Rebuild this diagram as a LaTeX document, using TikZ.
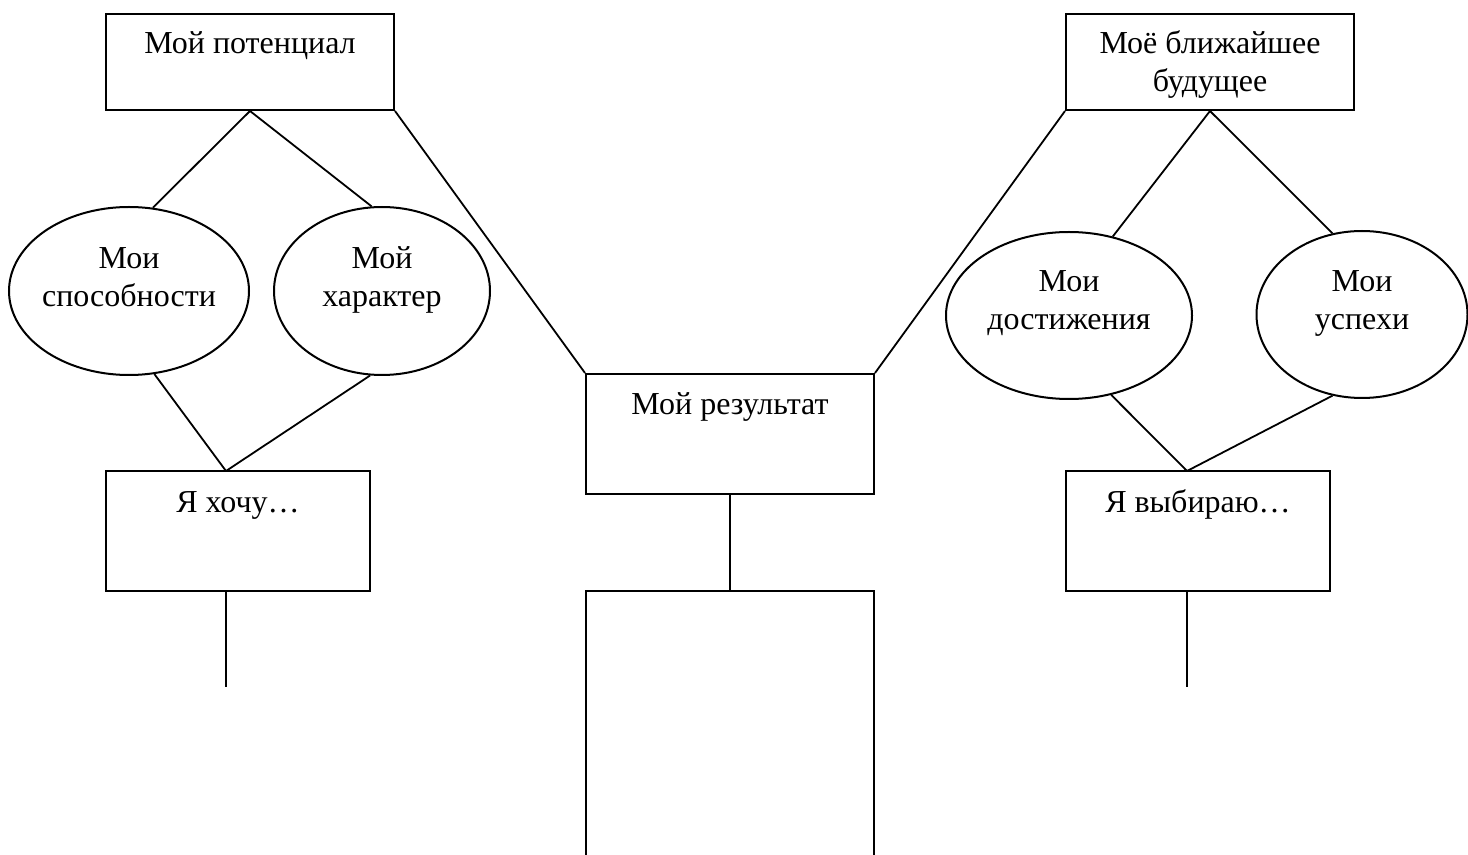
\documentclass[tikz,border=0pt]{standalone}
\usepackage{fontspec}
\setmainfont{Liberation Serif}
\usetikzlibrary{shapes.geometric}
\begin{document}
\begin{tikzpicture}[x=0.5pt,y=-0.5pt,
  box/.style={draw, rectangle, inner sep=0pt, line width=1pt},
  oval/.style={draw, ellipse, inner sep=0pt, line width=1pt},
  txt/.style={inner sep=0pt, align=center, font=\fontsize{16}{19}\selectfont},
  link/.style={line width=0.9pt}]
\useasboundingbox (0,0) rectangle (1468,855);
\clip (-2,-2) rectangle (1470,855);
\fill[white] (0,0) rectangle (1468,855);

% rectangles
\node[box, minimum width=144pt, minimum height=48pt] (pot) at (250,62) {};
\node[box, minimum width=144pt, minimum height=48pt] (fut) at (1210,62) {};
\node[box, minimum width=144pt, minimum height=60pt] (res) at (730,434) {};
\node[box, minimum width=144pt, minimum height=142pt] (blank) at (730,733) {};
\node[box, minimum width=132pt, minimum height=60pt] (want) at (238,531) {};
\node[box, minimum width=132pt, minimum height=60pt] (choose) at (1198,531) {};

% ellipses
\node[oval, minimum width=120pt, minimum height=84pt] (abil) at (129,291) {};
\node[oval, minimum width=108pt, minimum height=84pt] (char) at (382,291) {};
\node[oval, minimum width=123pt, minimum height=83.5pt] (ach) at (1069,315.5) {};
\node[oval, minimum width=105.5pt, minimum height=83.5pt] (succ) at (1362,314.5) {};

% texts
\node[txt] (tpot) at (250,46) {Мой потенциал};
\node[txt] (tfut) at (1210,65) {Моё ближайшее\\будущее};
\node[txt] (tres) at (730,407) {Мой результат};
\node[txt] (twant) at (238,505) {Я хочу…};
\node[txt] (tchoose) at (1198,504.5) {Я выбираю…};
\node[txt] (tabil) at (129,277) {Мои\\способности};
\node[txt] (tchar) at (382,280) {Мой\\характер};
\node[txt] (tach) at (1069,303) {Мои\\достижения};
\node[txt] (tsucc) at (1362,303.5) {Мои\\успехи};

% junction points and free ends
\coordinate (wanttop) at (226,471);
\coordinate (wantend) at (226,687);
\coordinate (choosetop) at (1187,471);
\coordinate (chooseend) at (1187,687);

% connectors
\draw[link] (pot.south) -- (abil.74);
\draw[link] (pot.south) -- (char.97);
\draw[link] (abil.-73) -- (wanttop);
\draw[link] (char.-98) -- (wanttop);
\draw[link] (pot.south east) -- (res.north west);
\draw[link] (fut.south west) -- (res.north east);
\draw[link] (fut.south) -- (ach.61);
\draw[link] (fut.south) -- (succ.110);
\draw[link] (ach.-62) -- (choosetop);
\draw[link] (succ.-110) -- (choosetop);
\draw[link] (res.south) -- (blank.north);
\draw[link] (want.south -| wantend) -- (wantend);
\draw[link] (choose.south -| chooseend) -- (chooseend);
\end{tikzpicture}
\end{document}
